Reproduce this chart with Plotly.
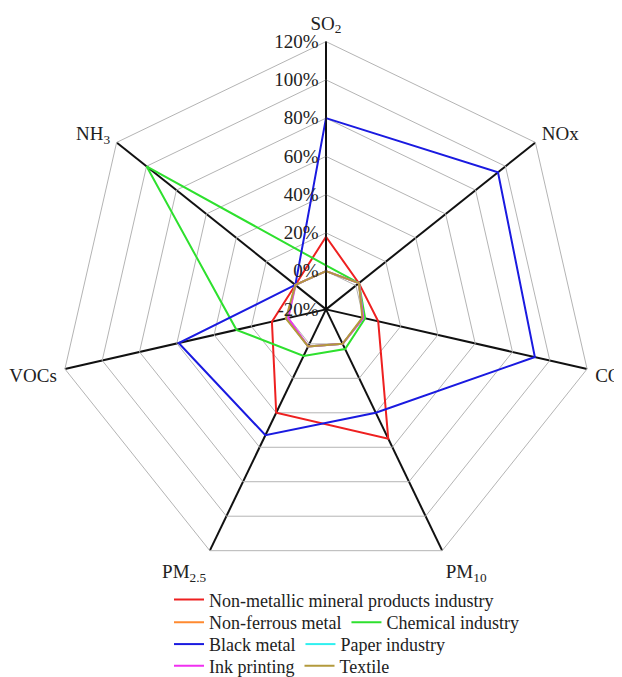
import plotly.graph_objects as go

categories = ["SO<sub>2</sub>", "NOx", "CO", "PM<sub>10</sub>", "PM<sub>2.5</sub>", "VOCs", "NH<sub>3</sub>"]
radial_ticks = [-20, 0, 20, 40, 60, 80, 100, 120]
radial_ticktext = ["-20%", "0%", "20%", "40%", "60%", "80%", "100%", "120%"]

non_metallic = [18, 2, 8, 55, 40, 9, 0.5]
non_ferrous = [0, 2, 0, 0, 1.5, 1, 0.5]
chemical = [3, 2, 1, 3, 7, 28, 100]
black_metal = [80, 95, 92, 40, 53, 59, 0.5]
paper = [0, 2, 0, 0, 1.5, 1, 0.5]
ink = [0, 2, 0, 0, 1.5, 0.3, 0.5]
textile = [0, 2, -0.5, 0, 1.5, 1.5, 0.5]

series = [
    ("Non-metallic mineral products industry", non_metallic, "#ee2020", "legend"),
    ("Non-ferrous metal", non_ferrous, "#ff8a30", "legend2"),
    ("Chemical industry", chemical, "#2ee02e", "legend2"),
    ("Black metal", black_metal, "#1a1ae0", "legend3"),
    ("Paper industry", paper, "#30f0f0", "legend3"),
    ("Ink printing", ink, "#f030f0", "legend4"),
    ("Textile", textile, "#b39a3c", "legend4"),
]

fig = go.Figure()
for name, vals, color, lg in series:
    fig.add_trace(go.Scatterpolar(
        r=vals + vals[:1],
        theta=categories + categories[:1],
        mode="lines",
        name=name,
        line=dict(color=color, width=2),
        legend=lg,
    ))

font_family = "Liberation Serif, Times New Roman, serif"
W, H = 622, 677
cx, cy, R = 318, 305, 271

legend_common = dict(
    orientation="h",
    font=dict(family=font_family, size=18, color="#222222"),
    bgcolor="rgba(0,0,0,0)",
    xanchor="left",
    yanchor="middle",
    itemwidth=30,
    tracegroupgap=0,
)
lx = 161 / W
fig.update_layout(
    width=W, height=H,
    margin=dict(l=0, r=0, t=0, b=0),
    paper_bgcolor="white",
    plot_bgcolor="white",
    font=dict(family=font_family, size=19, color="#222222"),
    showlegend=True,
    legend=dict(x=lx, y=1 - 599 / H, **legend_common),
    legend2=dict(x=lx, y=1 - 622 / H, **legend_common),
    legend3=dict(x=lx, y=1 - 644 / H, **legend_common),
    legend4=dict(x=lx, y=1 - 666 / H, **legend_common),
    polar=dict(
        domain=dict(x=[(cx - R) / W, (cx + R) / W], y=[(H - cy - R) / H, (H - cy + R) / H]),
        bgcolor="white",
        gridshape="linear",
        radialaxis=dict(
            range=[-20, 120],
            tickvals=radial_ticks,
            ticktext=radial_ticktext,
            angle=90,
            side="counterclockwise",
            tickangle=90,
            showline=True,
            linecolor="#111111",
            linewidth=1.5,
            gridcolor="#b4b4b4",
            gridwidth=1,
            ticks="",
            tickfont=dict(family=font_family, size=19, color="#222222"),
        ),
        angularaxis=dict(
            direction="clockwise",
            rotation=90,
            categoryorder="array",
            categoryarray=categories,
            gridcolor="#111111",
            gridwidth=1.5,
            showline=True,
            linecolor="#b4b4b4",
            linewidth=1,
            ticks="outside",
            ticklen=4,
            tickcolor="rgba(0,0,0,0)",
            tickfont=dict(family=font_family, size=19, color="#222222"),
        ),
    ),
)

fig.write_html("out.html")
